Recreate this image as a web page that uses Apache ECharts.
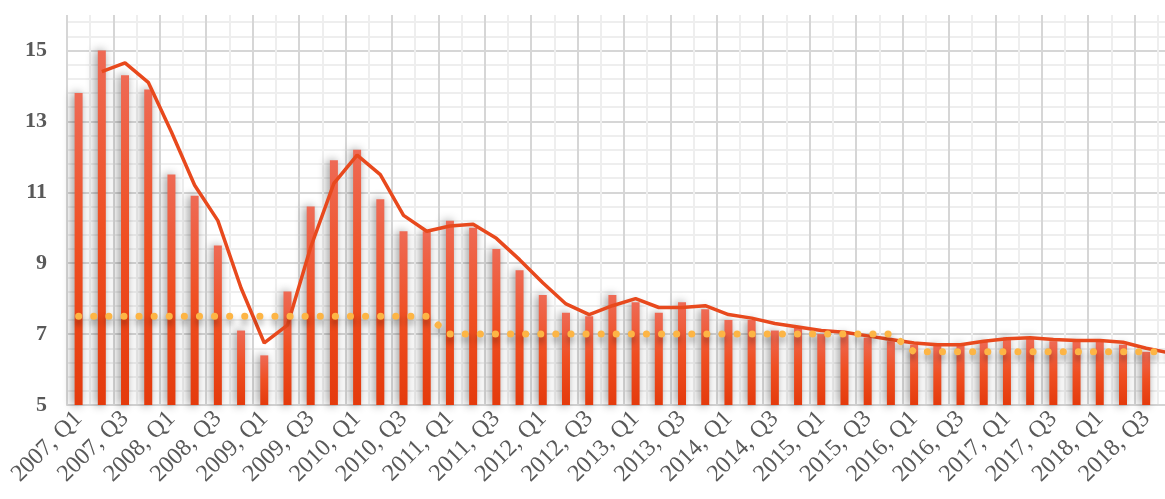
<!DOCTYPE html>
<html>
<head>
<meta charset="utf-8">
<style>
  html, body { margin: 0; padding: 0; background: #ffffff; overflow: hidden; }
  #chart { width: 1165px; height: 499px; }
</style>
<script src="https://cdn.jsdelivr.net/npm/echarts@6/dist/echarts.min.js"></script>
</head>
<body>
<div id="chart"></div>
<script>
// Quarterly categories
const categories = [
  '2007, Q1', '2007, Q2', '2007, Q3', '2007, Q4',
  '2008, Q1', '2008, Q2', '2008, Q3', '2008, Q4',
  '2009, Q1', '2009, Q2', '2009, Q3', '2009, Q4',
  '2010, Q1', '2010, Q2', '2010, Q3', '2010, Q4',
  '2011, Q1', '2011, Q2', '2011, Q3', '2011, Q4',
  '2012, Q1', '2012, Q2', '2012, Q3', '2012, Q4',
  '2013, Q1', '2013, Q2', '2013, Q3', '2013, Q4',
  '2014, Q1', '2014, Q2', '2014, Q3', '2014, Q4',
  '2015, Q1', '2015, Q2', '2015, Q3', '2015, Q4',
  '2016, Q1', '2016, Q2', '2016, Q3', '2016, Q4',
  '2017, Q1', '2017, Q2', '2017, Q3', '2017, Q4',
  '2018, Q1', '2018, Q2', '2018, Q3', '2018, Q4'
];

// Quarterly growth (bars)
const quarterlyGrowth = [
  13.8, 15.0, 14.3, 13.9,
  11.5, 10.9, 9.5, 7.1,
  6.4, 8.2, 10.6, 11.9,
  12.2, 10.8, 9.9, 9.9,
  10.2, 10.0, 9.4, 8.8,
  8.1, 7.6, 7.5, 8.1,
  7.9, 7.6, 7.9, 7.7,
  7.4, 7.4, 7.1, 7.2,
  7.0, 7.0, 6.9, 6.8,
  6.7, 6.7, 6.7, 6.8,
  6.9, 6.9, 6.8, 6.8,
  6.8, 6.7, 6.5, null
];

// Trend line
const trendLine = [
  null, 14.4, 14.65, 14.1,
  12.7, 11.2, 10.2, 8.3,
  6.75, 7.25, 9.45, 11.25,
  12.05, 11.5, 10.35, 9.9,
  10.05, 10.1, 9.7, 9.1,
  8.45, 7.85, 7.55, 7.8,
  8.0, 7.75, 7.75, 7.8,
  7.55, 7.45, 7.3, 7.2,
  7.1, 7.05, 6.95, 6.85,
  6.75, 6.7, 6.7, 6.8,
  6.87, 6.9, 6.85, 6.82,
  6.82, 6.77, 6.6, 6.47
];

// Target level (dotted)
const targetLevel = [
  7.5, 7.5, 7.5, 7.5,
  7.5, 7.5, 7.5, 7.5,
  7.5, 7.5, 7.5, 7.5,
  7.5, 7.5, 7.5, 7.5,
  7.0, 7.0, 7.0, 7.0,
  7.0, 7.0, 7.0, 7.0,
  7.0, 7.0, 7.0, 7.0,
  7.0, 7.0, 7.0, 7.0,
  7.0, 7.0, 7.0, 7.0,
  6.5, 6.5, 6.5, 6.5,
  6.5, 6.5, 6.5, 6.5,
  6.5, 6.5, 6.5, 6.5
];

const serif = '"Liberation Serif", "Times New Roman", serif';
const chart = echarts.init(document.getElementById('chart'));

chart.setOption({
  animation: false,
  backgroundColor: '#ffffff',
  // plot area runs past the right edge of the canvas, so the last quarter is cut off
  grid: {
    left: 67, top: 15, width: 1114, height: 390,
    containLabel: false,
    outerBoundsMode: 'none'
  },
  xAxis: {
    type: 'category',
    data: categories,
    boundaryGap: true,
    axisTick: { show: false },
    axisLine: { lineStyle: { color: '#d4d4d4', width: 2 } },
    axisLabel: {
      interval: 1,
      rotate: 45,
      fontFamily: serif,
      fontSize: 24,
      color: '#595959',
      margin: 10
    },
    splitLine: {
      show: true,
      interval: 0,
      lineStyle: { color: ['#d6d6d6', '#eeeeee'], width: 2 }
    }
  },
  yAxis: {
    type: 'value',
    min: 5,
    max: 16,
    interval: 2,
    axisLine: { show: false },
    axisTick: { show: false },
    axisLabel: {
      fontFamily: serif,
      fontWeight: 'bold',
      fontSize: 22,
      color: '#595959',
      margin: 20,
      showMaxLabel: false
    },
    splitLine: { show: true, showMaxLine: false, lineStyle: { color: '#d6d6d6', width: 2 } },
    minorTick: { show: false, splitNumber: 5 },
    minorSplitLine: { show: true, lineStyle: { color: '#eeeeee', width: 2 } }
  },
  series: [
    {
      type: 'bar',
      data: quarterlyGrowth,
      barWidth: 8,
      z: 2,
      itemStyle: {
        color: new echarts.graphic.LinearGradient(0, 0, 0, 1, [
          { offset: 0, color: '#ee6a55' },
          { offset: 0.5, color: '#ef4f22' },
          { offset: 1, color: '#e43a0c' }
        ]),
        shadowColor: 'rgba(0, 0, 0, 0.45)',
        shadowBlur: 10,
        shadowOffsetX: -2
      }
    },
    {
      type: 'line',
      data: trendLine,
      symbol: 'none',
      z: 3,
      lineStyle: { color: '#e8491d', width: 3.5 }
    },
    {
      type: 'line',
      data: targetLevel,
      symbol: 'none',
      z: 4,
      lineStyle: {
        color: '#fdb545',
        width: 7,
        type: [0.1, 15],
        cap: 'round',
        shadowColor: 'rgba(0, 0, 0, 0.35)',
        shadowBlur: 6,
        shadowOffsetY: 5
      }
    }
  ]
});
</script>
</body>
</html>
